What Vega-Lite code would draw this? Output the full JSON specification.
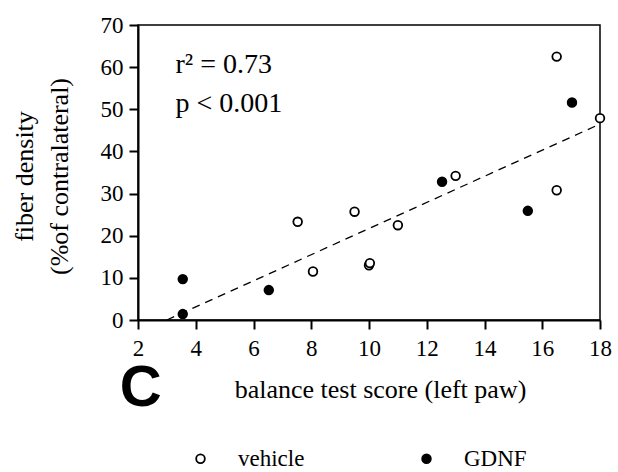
{
  "$schema": "https://vega.github.io/schema/vega-lite/v6.json",
  "width": 462,
  "height": 295,
  "autosize": {"type": "none"},
  "padding": {"left": 138, "top": 25, "right": 18, "bottom": 152},
  "background": "white",
  "config": {
    "view": {"stroke": "black", "strokeWidth": 1.5},
    "font": "Liberation Serif",
    "axis": {
      "grid": false,
      "domainColor": "black",
      "domainWidth": 2,
      "tickColor": "black",
      "tickWidth": 2,
      "tickSize": 9,
      "titleFont": "Liberation Serif",
      "titleFontSize": 26,
      "titleFontWeight": "normal",
      "titleColor": "black"
    }
  },
  "encoding": {
    "x": {
      "field": "score",
      "type": "quantitative",
      "scale": {"domain": [2, 18], "nice": false, "zero": false},
      "axis": {
        "title": "balance test score (left paw)",
        "values": [2, 4, 6, 8, 10, 12, 14, 16, 18],
        "labelFont": "Liberation Serif",
        "labelFontSize": 23,
        "labelColor": "black",
        "labelPadding": 8,
        "labelFlush": false,
        "labelOverlap": false,
        "titleX": 242,
        "titleY": 77,
        "titleAlign": "center",
        "titleBaseline": "alphabetic"
      }
    },
    "y": {
      "field": "density",
      "type": "quantitative",
      "scale": {"domain": [0, 70], "nice": false},
      "axis": {
        "title": ["fiber density", "(%of contralateral)"],
        "values": [0, 10, 20, 30, 40, 50, 60, 70],
        "labelFont": "Liberation Serif",
        "labelFontSize": 23,
        "labelColor": "black",
        "labelPadding": 6,
        "labelFlush": false,
        "labelOverlap": false,
        "titleAngle": -90,
        "titleX": -106,
        "titleY": 151,
        "titleAlign": "center",
        "titleBaseline": "alphabetic",
        "titleLineHeight": 35
      }
    }
  },
  "layer": [
    {
      "data": {"values": [{"score": 3, "density": 0}, {"score": 18, "density": 46.5}]},
      "mark": {"type": "line", "stroke": "black", "strokeWidth": 1.3, "strokeDash": [8, 6]}
    },
    {
      "data": {
        "values": [
          {"score": 7.53, "density": 23.3, "group": "vehicle"},
          {"score": 8.06, "density": 11.5, "group": "vehicle"},
          {"score": 9.5, "density": 25.7, "group": "vehicle"},
          {"score": 10.0, "density": 13.0, "group": "vehicle"},
          {"score": 10.03, "density": 13.5, "group": "vehicle"},
          {"score": 11.0, "density": 22.5, "group": "vehicle"},
          {"score": 13.0, "density": 34.2, "group": "vehicle"},
          {"score": 16.5, "density": 62.5, "group": "vehicle"},
          {"score": 16.5, "density": 30.8, "group": "vehicle"},
          {"score": 18.0, "density": 47.9, "group": "vehicle"},
          {"score": 3.55, "density": 9.7, "group": "GDNF"},
          {"score": 3.55, "density": 1.4, "group": "GDNF"},
          {"score": 6.53, "density": 7.1, "group": "GDNF"},
          {"score": 12.53, "density": 32.8, "group": "GDNF"},
          {"score": 15.5, "density": 25.9, "group": "GDNF"},
          {"score": 17.03, "density": 51.6, "group": "GDNF"}
        ]
      },
      "mark": {"type": "point", "shape": "circle", "size": 75, "stroke": "black", "strokeWidth": 1.8, "opacity": 1, "clip": false},
      "encoding": {
        "fill": {
          "field": "group",
          "type": "nominal",
          "scale": {"domain": ["vehicle", "GDNF"], "range": ["white", "black"]},
          "legend": {
            "title": null,
            "orient": "none",
            "legendX": 51,
            "legendY": 422,
            "direction": "horizontal",
            "labelFont": "Liberation Serif",
            "labelFontSize": 23,
            "labelColor": "black",
            "symbolType": "circle",
            "symbolSize": 75,
            "symbolStrokeColor": "black",
            "symbolStrokeWidth": 1.8,
            "symbolOpacity": 1,
            "labelOffset": 26,
            "columnPadding": 110
          }
        }
      }
    },
    {
      "data": {
        "values": [
          {"score": 3.3, "density": 58.7, "label": "r² = 0.73"},
          {"score": 3.3, "density": 49.4, "label": "p < 0.001"}
        ]
      },
      "mark": {"type": "text", "align": "left", "baseline": "alphabetic", "fontSize": 28, "font": "Liberation Serif", "color": "black"},
      "encoding": {"text": {"field": "label"}}
    },
    {
      "data": {"values": [{"score": 2.09, "density": -16.4, "label": "C"}]},
      "mark": {"type": "text", "align": "center", "baseline": "middle", "fontSize": 58, "font": "Liberation Sans", "fontWeight": "bold", "color": "black", "clip": false},
      "encoding": {"text": {"field": "label"}}
    }
  ]
}
